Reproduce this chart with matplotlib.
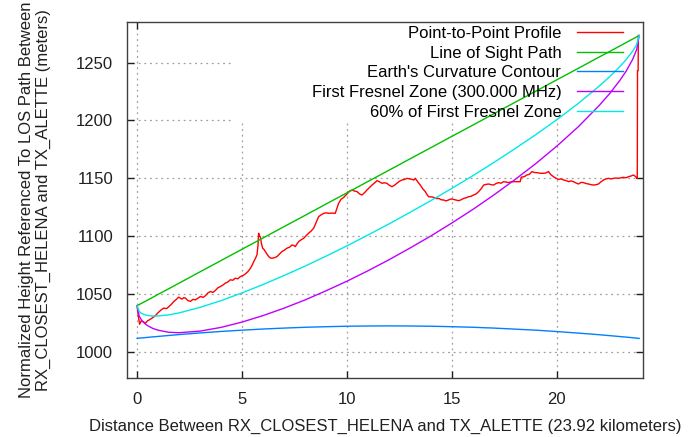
import matplotlib
matplotlib.use("Agg")
import matplotlib.pyplot as plt
from matplotlib.patches import Rectangle

plt.rcParams["font.family"] = ["Liberation Sans", "DejaVu Sans"]

# terrain profile (km, normalized height in m)
profile_km = [0.0, 0.05, 0.12, 0.2, 0.3, 0.4, 0.5, 0.6, 0.71, 0.85, 1.0, 1.15, 1.27, 1.4,
              1.5, 1.62, 1.75, 1.87, 1.98, 2.06, 2.14, 2.22, 2.3, 2.42, 2.54, 2.66, 2.78,
              2.9, 3.02, 3.14, 3.25, 3.37, 3.49, 3.61, 3.73, 3.85, 3.97, 4.1, 4.2, 4.32,
              4.44, 4.56, 4.68, 4.8, 4.92, 5.04, 5.16, 5.28, 5.4, 5.48, 5.56, 5.64, 5.71,
              5.76, 5.79, 5.83, 5.87, 5.92, 5.98, 6.05, 6.11, 6.19, 6.27, 6.35, 6.43, 6.55,
              6.67, 6.79, 6.9, 7.02, 7.14, 7.26, 7.38, 7.46, 7.54, 7.62, 7.7, 7.82, 7.94,
              8.05, 8.17, 8.29, 8.41, 8.53, 8.65, 8.77, 8.89, 9.01, 9.13, 9.28, 9.44, 9.52,
              9.6, 9.72, 9.84, 10.0, 10.12, 10.24, 10.36, 10.48, 10.6, 10.71, 10.83, 10.95,
              11.07, 11.19, 11.31, 11.43, 11.55, 11.67, 11.78, 11.9, 12.02, 12.14, 12.26,
              12.38, 12.5, 12.62, 12.74, 12.86, 12.98, 13.1, 13.18, 13.25, 13.37, 13.49,
              13.61, 13.73, 13.81, 13.89, 14.01, 14.13, 14.25, 14.37, 14.49, 14.6, 14.72,
              14.84, 14.96, 15.08, 15.2, 15.32, 15.44, 15.56, 15.68, 15.79, 15.91, 16.03,
              16.15, 16.27, 16.39, 16.51, 16.63, 16.75, 16.87, 16.98, 17.1, 17.22, 17.34,
              17.46, 17.58, 17.7, 17.82, 17.94, 18.1, 18.25, 18.3, 18.45, 18.57, 18.69,
              18.81, 18.93, 19.05, 19.17, 19.29, 19.45, 19.6, 19.72, 19.84, 19.96, 20.08,
              20.2, 20.32, 20.44, 20.56, 20.68, 20.79, 20.91, 21.03, 21.15, 21.27, 21.39,
              21.51, 21.63, 21.75, 21.86, 21.98, 22.1, 22.22, 22.34, 22.46, 22.58, 22.7,
              22.82, 22.94, 23.06, 23.17, 23.29, 23.41, 23.53, 23.65, 23.75, 23.81, 23.83,
              23.84, 23.87, 23.88]
profile_m = [1040, 1032, 1024, 1027, 1026, 1025, 1027, 1028, 1029.3, 1031, 1034, 1036.5,
             1038, 1037.5, 1039, 1041, 1043.7, 1045.5, 1047.4, 1046.5, 1045.7, 1047, 1046.6,
             1044.5, 1043.7, 1045.5, 1045.1, 1046.5, 1048, 1047.2, 1048.6, 1051, 1052.3,
             1051.5, 1053.2, 1055.5, 1056.6, 1058, 1059.5, 1060.5, 1062.4, 1062, 1063.8,
             1063.2, 1065.2, 1066, 1067.5, 1069.5, 1072.4, 1075, 1078.2, 1081, 1083.9, 1092,
             1102.6, 1100, 1099.7, 1094, 1089.7, 1088.5, 1086.8, 1084.5, 1082.5, 1081.2,
             1081, 1081.5, 1082.5, 1084.8, 1086.8, 1088, 1089.7, 1090.5, 1092.5, 1092,
             1091.1, 1093.5, 1095.4, 1097, 1098.3, 1100.5, 1102.6, 1104.5, 1106.9, 1112,
             1117, 1118.5, 1119.8, 1120.2, 1119.8, 1120, 1119.8, 1124, 1128.4, 1132, 1133.5,
             1136.5, 1139, 1139.9, 1139, 1138.5, 1136.5, 1135.6, 1137.5, 1139.9, 1142,
             1144.2, 1146, 1148, 1147, 1145.7, 1146.2, 1145.7, 1144, 1142.8, 1144, 1145.7,
             1147.5, 1148.6, 1149, 1150, 1149.5, 1149.1, 1148.5, 1150, 1147, 1144.2, 1141,
             1138.5, 1136, 1134.1, 1134, 1133.6, 1132.5, 1132.7, 1131.5, 1131.3, 1130.5,
             1131.3, 1132.2, 1131.8, 1131.2, 1130.7, 1131.5, 1132.7, 1133.2, 1134.1, 1134.5,
             1135.6, 1136.5, 1138.5, 1141, 1144.2, 1144.8, 1145.1, 1144.5, 1144.2, 1145.5,
             1146.3, 1145.8, 1147.1, 1146.8, 1146.3, 1147, 1147.1, 1147.1, 1147.1, 1151,
             1151.5, 1152.9, 1153.5, 1155.8, 1155, 1154.9, 1154.5, 1154.3, 1154.5, 1155.8,
             1153, 1151.4, 1150, 1149.1, 1149.5, 1148.6, 1148, 1147.1, 1147.8, 1147.1, 1146,
             1145.1, 1146.5, 1146.3, 1145.5, 1145.1, 1144.5, 1144.2, 1144.5, 1145.1, 1147,
             1148.6, 1149.5, 1150, 1149.5, 1150, 1150.3, 1150, 1150.5, 1150.9, 1150.5,
             1151.4, 1152, 1152.9, 1151.5, 1150, 1150, 1243, 1243, 1273.3]

# smooth reference curves sampled along the path
curve_km = [0, 0.1, 0.2, 0.35, 0.5, 0.75, 1, 1.5, 2, 3, 4, 5, 6, 7, 8, 9, 10, 11, 12, 13,
            14, 15, 16, 17, 18, 19, 20, 21, 22, 22.5, 23, 23.3, 23.6, 23.8, 23.92]
los_m = [1040, 1041.0, 1042.0, 1043.4, 1044.9, 1047.3, 1049.8, 1054.6, 1059.5, 1069.3,
         1079.0, 1088.8, 1098.5, 1108.3, 1118.0, 1127.8, 1137.5, 1147.3, 1157.0, 1166.8,
         1176.5, 1186.3, 1196.0, 1205.8, 1215.6, 1225.3, 1235.1, 1244.8, 1254.6, 1259.4,
         1264.3, 1267.2, 1270.2, 1272.1, 1273.3]
curvature_m = [1011.8, 1012.0, 1012.2, 1012.4, 1012.7, 1013.1, 1013.5, 1014.3, 1015.1,
               1016.5, 1017.8, 1018.9, 1019.9, 1020.7, 1021.4, 1021.9, 1022.3, 1022.5,
               1022.6, 1022.5, 1022.3, 1021.9, 1021.4, 1020.7, 1019.8, 1018.9, 1017.7,
               1016.4, 1015.0, 1014.2, 1013.4, 1012.9, 1012.4, 1012.0, 1011.8]
fresnel_m = [1040, 1031.0, 1027.9, 1024.8, 1022.8, 1020.4, 1018.9, 1017.1, 1016.7, 1018.1,
             1021.3, 1025.9, 1031.5, 1037.9, 1045.0, 1052.9, 1061.2, 1070.2, 1079.7,
             1089.8, 1100.3, 1111.5, 1123.2, 1135.7, 1148.9, 1162.8, 1177.9, 1194.2,
             1212.6, 1222.9, 1234.6, 1242.6, 1252.4, 1261.2, 1273.3]
fresnel60_m = [1040, 1035.0, 1033.5, 1032.3, 1031.6, 1031.1, 1031.2, 1032.1, 1033.8,
               1038.6, 1044.4, 1051.1, 1058.3, 1066.1, 1074.2, 1082.8, 1091.7, 1101.1,
               1110.6, 1120.6, 1130.8, 1141.4, 1152.3, 1163.7, 1175.6, 1187.8, 1200.7,
               1214.4, 1229.4, 1237.5, 1246.5, 1252.5, 1259.5, 1265.5, 1273.3]

x_ticks = [0, 5, 10, 15, 20]
y_ticks = [1000, 1050, 1100, 1150, 1200, 1250]

FS = 12


def make_plot():
    fig = plt.figure(figsize=(6.93, 4.37), dpi=100)
    ax = fig.add_axes([0.1833, 0.135, 0.7445, 0.8147])

    ax.plot(profile_km, profile_m, color="#ff0000", lw=1.0, label="Point-to-Point Profile")
    ax.plot(curve_km, los_m, color="#00c000", lw=1.0, label="Line of Sight Path")
    ax.plot(curve_km, curvature_m, color="#0080ff", lw=1.0, label="Earth's Curvature Contour")
    ax.plot(curve_km, fresnel_m, color="#c000ff", lw=1.0,
            label="First Fresnel Zone (300.000 MHz)")
    ax.plot(curve_km, fresnel60_m, color="#00e8e8", lw=1.0, label="60% of First Fresnel Zone")

    ax.set_xlim(-0.48, 24.1)
    ax.set_ylim(977.6, 1285)
    ax.set_xticks(x_ticks)
    ax.set_yticks(y_ticks)
    ax.tick_params(direction="in", length=5, width=1, top=True, right=True,
                   labelsize=FS, colors="#202020", pad=10)

    ax.set_axisbelow(True)
    ax.grid(True, color="#a0a0a0", lw=0.9, linestyle=(0, (1.5, 3)))
    # key background hides the grid under the legend
    ax.add_patch(Rectangle((0.205, 0.719), 0.795, 0.281, transform=ax.transAxes,
                           facecolor="white", edgecolor="none", zorder=1))

    for sp in ax.spines.values():
        sp.set_color("#404040")
        sp.set_linewidth(1.0)

    ax.set_xlabel("Distance Between RX_CLOSEST_HELENA and TX_ALETTE (23.92 kilometers)",
                  fontsize=FS, color="#202020")
    ax.xaxis.set_label_coords(0.5, -0.135)
    ax.xaxis.label.set_va("center")
    ax.set_ylabel("Normalized Height Referenced To LOS Path Between\n"
                  "RX_CLOSEST_HELENA and TX_ALETTE (meters)",
                  fontsize=FS, color="#202020", linespacing=1.15)
    ax.yaxis.set_label_coords(-0.178, 0.5)
    ax.yaxis.label.set_va("center")

    ax.legend(loc="upper right", bbox_to_anchor=(623 / 693, 1 - 26 / 437),
              bbox_transform=fig.transFigure, frameon=False, markerfirst=False,
              fontsize=FS, handlelength=2.75, handletextpad=0.95, labelspacing=0.28,
              borderpad=0, borderaxespad=0)

    fig.savefig("out.png", dpi=100)


if __name__ == "__main__":
    make_plot()
